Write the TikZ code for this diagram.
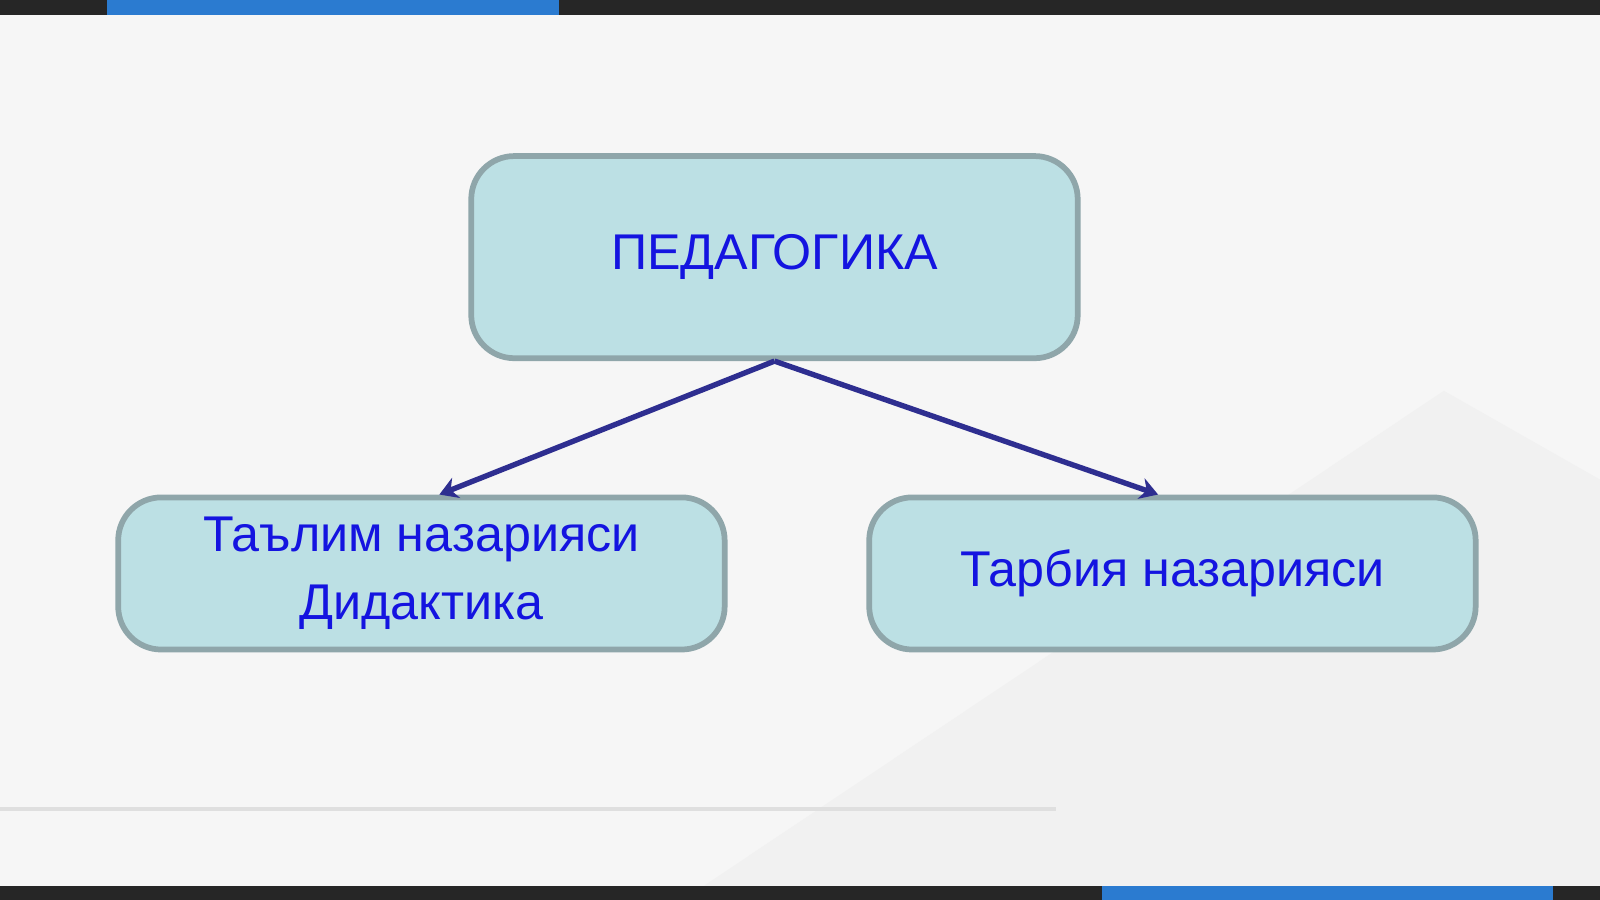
\documentclass[tikz,border=0pt]{standalone}
\usepackage{fontspec}
\setmainfont{Liberation Sans}
\usetikzlibrary{positioning, arrows.meta}
\definecolor{boxfill}{HTML}{BCE0E4}
\definecolor{boxline}{HTML}{8FA6AA}
\definecolor{txtblue}{HTML}{1414E0}
\definecolor{arrblue}{HTML}{2E2E90}
\definecolor{barblue}{HTML}{2B7BD0}
\tikzset{
    topic/.style={draw=boxline, line width=1.6pt, fill=boxfill, rounded corners=12pt,
        text=txtblue, font=\fontsize{14}{19}\selectfont, align=center, inner sep=0pt},
    link/.style={draw=arrblue, line width=1.5pt, -{Stealth[length=5pt,width=6pt]}}
}
\begin{document}
\begin{tikzpicture}[x=0.01cm, y=-0.01cm]
        \useasboundingbox (0, 0) rectangle (1568, 882);
        % background
        \fill[gray!7] (0, 0) rectangle (1568, 882);
        \fill[gray!11] (690, 868) -- (1415, 383) -- (1568, 470) -- (1568, 868) -- cycle;
        \draw[gray!25, line width=1pt] (0, 793) -- (1035, 793);
        % bars
        \fill[black!85] (0, 0) rectangle (1568, 15);
        \fill[barblue] (105, 0) rectangle (548, 15);
        \fill[black!85] (0, 868) rectangle (1568, 882);
        \fill[barblue] (1080, 868) rectangle (1522, 882);
        % boxes
        \node[topic, minimum width=5.94cm, minimum height=1.98cm] (ped) at (759, 252) {ПЕДАГОГИКА};
        \node[topic, minimum width=5.94cm, minimum height=1.49cm] (talim) at (413, 562) {Таълим назарияси\\Дидактика};
        \node[topic, minimum width=5.94cm, minimum height=1.49cm] (tarbiya) at (1149, 562) {Тарбия назарияси};
        % arrows
        \draw[link] (ped.south) -- ([xshift=5]talim.north);
        \draw[link] (ped.south) -- ([xshift=-4]tarbiya.north);
    \end{tikzpicture}
\end{document}
